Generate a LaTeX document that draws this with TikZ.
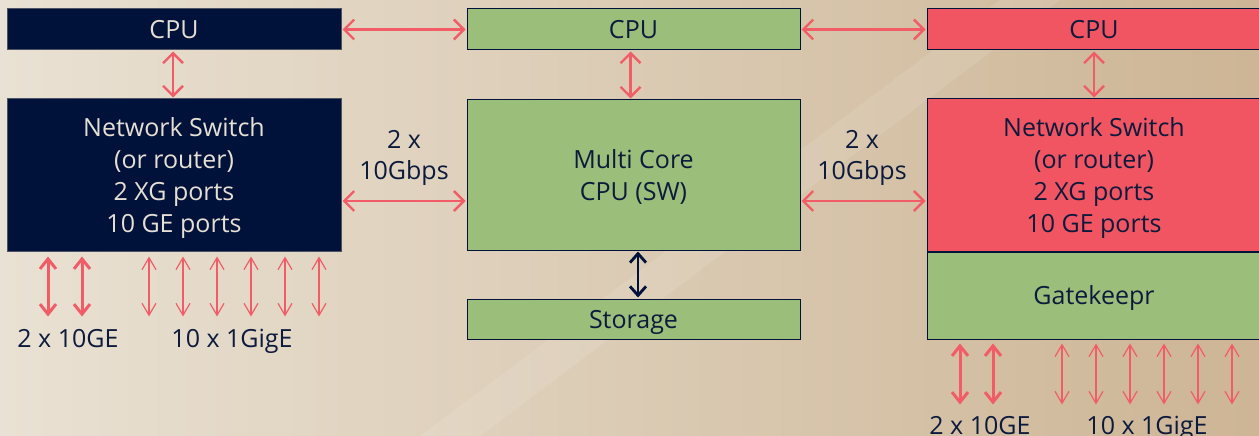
\documentclass[tikz,border=0pt]{standalone}
\usepackage{fontspec}
\setmainfont{Open Sans}
\usetikzlibrary{arrows.meta}
\definecolor{navy}{HTML}{00113A}
\definecolor{navytext}{HTML}{0C1A3C}
\definecolor{lighttext}{HTML}{E6E0D4}
\definecolor{boxgreen}{HTML}{9BBE7A}
\definecolor{boxred}{HTML}{F15562}
\definecolor{arrred}{HTML}{F25C66}
\definecolor{bgleft}{HTML}{E9E1D3}
\definecolor{bgright}{HTML}{CDB595}
\tikzset{
  box/.style={draw=navy, line width=1pt, inner sep=0pt, align=center, text depth=0pt,
    font=\fontsize{25}{32}\selectfont, text=navytext},
  lbl/.style={inner sep=0pt, align=center, text depth=0pt, font=\fontsize{25}{31}\selectfont, text=navytext},
  link/.style={draw=arrred, line width=2.4pt, {Straight Barb[length=10pt,width=20pt]}-{Straight Barb[length=10pt,width=20pt]}},
  thickport/.style={draw=arrred, line width=3pt, {Straight Barb[length=10pt,width=16pt]}-{Straight Barb[length=10pt,width=16pt]}},
  thinport/.style={draw=arrred, line width=1.2pt, {Straight Barb[length=12pt,width=14pt]}-{Straight Barb[length=12pt,width=14pt]}},
  darklink/.style={draw=navy, line width=2.8pt, {Straight Barb[length=9pt,width=16pt]}-{Straight Barb[length=9pt,width=16pt]}},
}
\begin{document}
\begin{tikzpicture}[x=1pt,y=-1pt]
\useasboundingbox (0,0) rectangle (1259,436);
\clip (0,0) rectangle (1259,436);
\shade[left color=bgleft, right color=bgright] (0,0) rectangle (1259,436);
\fill[white, opacity=0.10] (420,436) -- (480,436) -- (1060,0) -- (1000,0) -- cycle;

% left column
\node[box, fill=navy, draw=gray!60!navy, text=lighttext, minimum width=334, minimum height=41] (lcpu) at (174,29.5) {CPU};
\node[box, fill=navy, draw=gray!60!navy, text=lighttext, minimum width=334, minimum height=152] (lsw) at (174,175)
  {Network Switch\\(or router)\\2 XG ports\\10 GE ports};

% center column
\node[box, fill=boxgreen, minimum width=333, minimum height=41] (ccpu) at (633.5,29.5) {CPU};
\node[box, fill=boxgreen, minimum width=333, minimum height=150] (core) at (633.5,175) {Multi Core\\CPU (SW)};
\node[box, fill=boxgreen, minimum width=333, minimum height=40] (stor) at (633.5,319) {Storage};

% right column
\node[box, fill=boxred, minimum width=334, minimum height=41] (rcpu) at (1094,29.5) {CPU};
\node[box, fill=boxred, minimum width=334, minimum height=152] (rsw) at (1094,175)
  {Network Switch\\(or router)\\2 XG ports\\10 GE ports};
\node[box, fill=boxgreen, minimum width=334, minimum height=87, anchor=north] (gate) at (rsw.south) {Gatekeepr};

% link labels
\node[lbl] (l1) at (404,155) {2 x\\10Gbps};
\node[lbl] (l2) at (862,155) {2 x\\10Gbps};

% links
\draw[link] ([xshift=1pt]lcpu.east) -- ([xshift=-1pt]ccpu.west);
\draw[link] ([xshift=1pt]ccpu.east) -- ([xshift=-1pt]rcpu.west);
\draw[link] ([yshift=-26pt,xshift=1pt]lsw.east) -- ([yshift=-26pt,xshift=-1pt]core.west);
\draw[link] ([yshift=-26pt,xshift=1pt]core.east) -- ([yshift=-26pt,xshift=-1pt]rsw.west);
\draw[link] ([xshift=-1pt,yshift=-1pt]lcpu.south) -- ([xshift=-1pt,yshift=1pt]lsw.north);
\draw[link] ([xshift=-3pt,yshift=-1pt]ccpu.south) -- ([xshift=-3pt,yshift=1pt]core.north);
\draw[link] ([yshift=-1pt]rcpu.south) -- ([yshift=1pt]rsw.north);
\draw[darklink] ([xshift=4.5pt,yshift=-1pt]core.south) -- ([xshift=4.5pt,yshift=1pt]stor.north);

% left ports
\foreach \dx in {-126,-92}
  \draw[thickport] ([xshift=\dx pt,yshift=-5pt]lsw.south) -- ++(0,60);
\foreach \dx in {-25,9,43,77,111,145}
  \draw[thinport] ([xshift=\dx pt,yshift=-5pt]lsw.south) -- ++(0,60);
\node[lbl] (lp1) at (68,338) {2 x 10GE};
\node[lbl] (lp2) at (232,338) {10 x 1GigE};

% right ports
\foreach \dx in {-134,-101}
  \draw[thickport] ([xshift=\dx pt,yshift=-4pt]gate.south) -- ++(0,61);
\foreach \dx in {-32,2,36,70,104,138}
  \draw[thinport] ([xshift=\dx pt,yshift=-4pt]gate.south) -- ++(0,61);
\node[lbl] (rp1) at (980,425) {2 x 10GE};
\node[lbl] (rp2) at (1147,425) {10 x 1GigE};
\end{tikzpicture}
\end{document}
